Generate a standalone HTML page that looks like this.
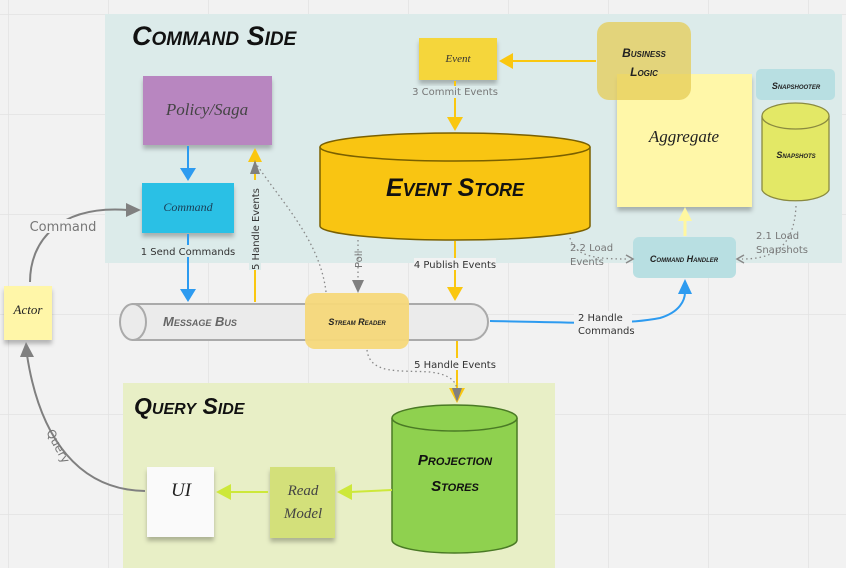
<!DOCTYPE html>
<html><head><meta charset="utf-8"><style>
html,body{margin:0;padding:0;background:#f2f2f2}
svg{display:block}
.h{font-family:"Liberation Sans",sans-serif;font-weight:bold;font-style:italic;font-variant:small-caps}
.s{font-family:"Liberation Serif",serif;font-style:italic}
.l{font-family:"DejaVu Sans","Liberation Sans",sans-serif;font-size:10px;fill:#333}
.g{font-family:"DejaVu Sans","Liberation Sans",sans-serif;font-size:10px;fill:#777}
</style></head><body>
<svg width="846" height="568" viewBox="0 0 846 568" xmlns="http://www.w3.org/2000/svg">
<defs>
<pattern id="grid" width="100" height="100" patternUnits="userSpaceOnUse" x="8" y="14">
<path d="M0 0H100M0 0V100" stroke="#e2e2e2" stroke-width="1.5" fill="none"/></pattern>
<filter id="sh" x="-10%" y="-10%" width="130%" height="140%"><feDropShadow dx="0" dy="4" stdDeviation="2" flood-color="#000" flood-opacity="0.25"/></filter>
</defs>
<rect width="846" height="568" fill="#f2f2f2"/>
<rect width="846" height="568" fill="url(#grid)"/>
<rect x="105" y="14" width="737" height="249" fill="#dcebea"/>
<rect x="123" y="383" width="432" height="185" fill="#e8efc6"/>
<text x="132" y="45" class="h" font-size="27" fill="#111">Command Side</text>
<text x="134" y="414" class="h" font-size="23" fill="#111">Query Side</text>

<path d="M320 147 V226 A135 14 0 0 0 590 226 V147" fill="#f9c512" stroke="#7a6000" stroke-width="1.5"/>
<ellipse cx="455" cy="147" rx="135" ry="14" fill="#f9c512" stroke="#7a6000" stroke-width="1.5"/>
<text x="455" y="196" text-anchor="middle" class="h" font-size="25" fill="#111">Event Store</text>

<rect x="419" y="38" width="78" height="42" fill="#f5d63a" filter="url(#sh)"/>
<text x="458" y="62" text-anchor="middle" class="s" font-size="11" fill="#333">Event</text>

<rect x="617" y="74" width="135" height="133" fill="#fff7a8" filter="url(#sh)"/>
<text x="684" y="142" text-anchor="middle" class="s" font-size="17" fill="#222">Aggregate</text>
<rect x="597" y="22" width="94" height="78" rx="12" fill="#e6cc55" opacity="0.75"/>
<text x="644" y="57" text-anchor="middle" class="h" font-size="12" fill="#222">Business</text>
<text x="644" y="76" text-anchor="middle" class="h" font-size="12" fill="#222">Logic</text>

<rect x="756" y="69" width="79" height="31" rx="5" fill="#b8dfe2"/>
<text x="796" y="89" text-anchor="middle" class="h" font-size="9" fill="#222">Snapshooter</text>
<path d="M762 116 V190 A34 13 0 0 0 829 190 V116" fill="#e3e866" stroke="#8a8a40" stroke-width="1.3"/>
<ellipse cx="795.5" cy="116" rx="33.5" ry="13" fill="#e3e866" stroke="#8a8a40" stroke-width="1.3"/>
<text x="796" y="158" text-anchor="middle" class="h" font-size="9" fill="#222">Snapshots</text>

<rect x="143" y="76" width="129" height="69" fill="#b886c0" filter="url(#sh)"/>
<text x="207" y="115" text-anchor="middle" class="s" font-size="17" fill="#444">Policy/Saga</text>
<rect x="142" y="183" width="92" height="50" fill="#29c0e5" filter="url(#sh)"/>
<text x="188" y="211" text-anchor="middle" class="s" font-size="12" fill="#1a3d55">Command</text>

<rect x="633" y="237" width="103" height="41" rx="6" fill="#b8dfe2"/>
<text x="684" y="262" text-anchor="middle" class="h" font-size="9" fill="#222">Command Handler</text>

<rect x="4" y="286" width="48" height="54" fill="#fff6a8" filter="url(#sh)"/>
<text x="28" y="314" text-anchor="middle" class="s" font-size="13" fill="#222">Actor</text>

<path d="M133 304 H471 A17 18 0 0 1 471 340 H133 Z" fill="#ebebeb" stroke="#aaa" stroke-width="2"/>
<ellipse cx="133" cy="322" rx="13" ry="18" fill="#ebebeb" stroke="#aaa" stroke-width="2"/>
<text x="163" y="326" class="h" font-size="13" fill="#666">Message Bus</text>
<rect x="305" y="293" width="104" height="56" rx="10" fill="#f5d87a" opacity="0.95"/>
<text x="357" y="325" text-anchor="middle" class="h" font-size="9" fill="#222">Stream Reader</text>

<path d="M392 418 V540 A62.5 13 0 0 0 517 540 V418" fill="#8fd14f" stroke="#4a7a25" stroke-width="1.5"/>
<ellipse cx="454.5" cy="418" rx="62.5" ry="13" fill="#8fd14f" stroke="#4a7a25" stroke-width="1.5"/>
<text x="455" y="465" text-anchor="middle" class="h" font-size="15" fill="#111">Projection</text>
<text x="455" y="491" text-anchor="middle" class="h" font-size="15" fill="#111">Stores</text>

<rect x="270" y="467" width="65" height="71" fill="#d3e07a" filter="url(#sh)"/>
<text x="303" y="480" text-anchor="middle" class="s" font-size="15" fill="#444"><tspan x="303" dy="15">Read</tspan><tspan x="303" dy="23">Model</tspan></text>
<rect x="147" y="467" width="67" height="70" fill="#fafafa" filter="url(#sh)"/>
<text x="181" y="496" text-anchor="middle" class="s" font-size="19" fill="#222">UI</text>

<g fill="none" stroke-width="2">
<path d="M188 146 V170" stroke="#2d9bf0"/>
<path d="M188 234 V290" stroke="#2d9bf0"/>
<path d="M255 302 V162" stroke="#fac710"/>
<path d="M455 81 V118" stroke="#fac710"/>
<path d="M596 61 H512" stroke="#fac710"/>
<path d="M455 241 V288" stroke="#fac710"/>
<path d="M457 341 V390" stroke="#fac710"/>
<path d="M490 321 C560 322 620 326 660 318 C680 312 685 300 685 292" stroke="#2d9bf0"/>
<path d="M685 236 V218" stroke="#fff7a0" stroke-width="3"/>
<path d="M392 490 L350 492" stroke="#cde83a"/>
<path d="M268 492 L230 492" stroke="#cde83a"/>
<path d="M30 282 C30 240 60 205 128 210" stroke="#808080"/>
<path d="M145 491 C80 490 40 440 27 355" stroke="#808080"/>
</g>
<g fill="none" stroke="#888" stroke-width="1.3" stroke-dasharray="1.5 3">
<path d="M326 292 C320 240 280 200 257 165"/>
<path d="M358 240 V282"/>
<path d="M367 350 C370 375 400 370 430 372 C455 375 457 385 457 392"/>
<path d="M570 238 C575 258 600 259 628 259"/>
<path d="M796 206 C794 250 770 259 742 259"/>
</g>
<g>
<path d="M180 168 L196 168 L188 181 Z" fill="#2d9bf0"/>
<path d="M180 289 L196 289 L188 302 Z" fill="#2d9bf0"/>
<path d="M248 162 L262 162 L255 148 Z" fill="#fac710"/>
<path d="M250 174 L260 174 L255 160 Z" fill="#808080"/>
<path d="M447 117 L463 117 L455 131 Z" fill="#fac710"/>
<path d="M513 53 L513 69 L499 61 Z" fill="#fac710"/>
<path d="M447 287 L463 287 L455 301 Z" fill="#fac710"/>
<path d="M449 388 L465 388 L457 403 Z" fill="#fac710"/>
<path d="M452 388 L462 388 L457 402 Z" fill="#808080"/>
<path d="M352 280 L364 280 L358 293 Z" fill="#808080"/>
<path d="M678 294 L692 294 L685 279 Z" fill="#2d9bf0"/>
<path d="M678 221 L692 221 L685 207 Z" fill="#fff7a0"/>
<path d="M352 484 L352 500 L337 492 Z" fill="#cde83a"/>
<path d="M231 484 L231 500 L216 492 Z" fill="#cde83a"/>
<path d="M126 203 L141 210 L126 217 Z" fill="#808080"/>
<path d="M20 357 L34 357 L26 342 Z" fill="#808080"/>
<path d="M626 255 L633 259 L626 263" fill="none" stroke="#888" stroke-width="1.5"/>
<path d="M744 255 L737 259 L744 263" fill="none" stroke="#888" stroke-width="1.5"/>
</g>
<rect x="142" y="245" width="92" height="12" fill="#dcebea"/>
<text x="188" y="255" text-anchor="middle" class="l">1 Send Commands</text>
<rect x="412" y="86" width="86" height="12" fill="#dcebea"/>
<text x="455" y="95" text-anchor="middle" class="g">3 Commit Events</text>
<rect x="414" y="258" width="82" height="12" fill="#f2f2f2"/>
<text x="455" y="268" text-anchor="middle" class="l">4 Publish Events</text>
<rect x="414" y="358" width="82" height="12" fill="#f2f2f2"/>
<text x="455" y="368" text-anchor="middle" class="l">5 Handle Events</text>
<rect x="249" y="180" width="12" height="90" fill="#dcebea"/>
<text transform="translate(259 270) rotate(-90)" class="l" x="0" y="0">5 Handle Events</text>
<text transform="translate(362 268) rotate(-90)" class="g">Poll</text>
<rect x="574" y="311" width="58" height="24" fill="#f2f2f2"/>
<text x="578" y="321" class="l">2 Handle</text>
<text x="578" y="334" class="l">Commands</text>
<text x="570" y="251" class="g">2.2 Load</text>
<text x="570" y="265" class="g">Events</text>
<text x="756" y="239" class="g">2.1 Load</text>
<text x="756" y="253" class="g">Snapshots</text>
<rect x="28" y="219" width="72" height="14" fill="#f2f2f2"/>
<text x="63" y="231" text-anchor="middle" class="g" style="font-size:13px">Command</text>
<text transform="translate(46 432) rotate(62)" class="g" style="font-size:12px">Query</text>
</svg>
</body></html>
